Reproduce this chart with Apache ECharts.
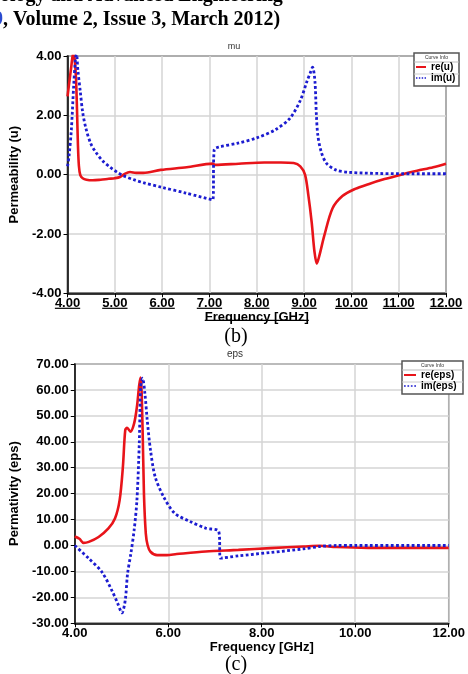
<!DOCTYPE html>
<html>
<head>
<meta charset="utf-8">
<script src="https://cdn.jsdelivr.net/npm/echarts@6/dist/echarts.min.js"></script>
<style>
  html, body { margin: 0; padding: 0; background: #fff; }
  #chart { width: 468px; height: 674px; }
</style>
</head>
<body>
<div id="chart"></div>
<script>
  // (b) mu
  const muReF = [4.00, 4.04, 4.08, 4.12, 4.15, 4.18, 4.20, 4.22, 4.24, 4.27, 4.32, 4.40, 4.53, 4.70, 4.87, 5.00, 5.11, 5.20, 5.32, 5.45, 5.60, 5.97, 6.52, 7.07, 7.12, 7.62, 8.16, 8.51, 8.78, 8.92, 9.02, 9.09, 9.16, 9.22, 9.27, 9.32, 9.43, 9.60, 9.81, 10.08, 10.36, 10.70, 11.05, 11.39, 11.73, 12.00];
  const muReV = [2.64, 3.15, 3.65, 4.10, 3.90, 3.20, 2.20, 1.00, 0.30, -0.02, -0.12, -0.17, -0.19, -0.17, -0.14, -0.12, -0.08, 0.02, 0.09, 0.06, 0.06, 0.16, 0.25, 0.37, 0.33, 0.37, 0.41, 0.41, 0.39, 0.28, 0.00, -0.69, -1.59, -2.60, -3.00, -2.75, -2.04, -1.14, -0.72, -0.48, -0.32, -0.15, 0.00, 0.13, 0.25, 0.37];
  const muImF = [4.00, 4.03, 4.08, 4.13, 4.17, 4.19, 4.22, 4.27, 4.32, 4.39, 4.49, 4.60, 4.75, 4.90, 5.05, 5.20, 5.40, 5.60, 6.00, 6.50, 7.07, 7.10, 7.20, 7.60, 8.00, 8.40, 8.70, 8.92, 9.06, 9.13, 9.18, 9.23, 9.26, 9.29, 9.36, 9.47, 9.67, 9.95, 10.60, 11.30, 12.00];
  const muImV = [0.28, 0.60, 1.50, 3.00, 3.95, 4.05, 3.50, 2.80, 2.10, 1.55, 1.05, 0.75, 0.45, 0.25, 0.08, -0.05, -0.17, -0.27, -0.43, -0.62, -0.85, 0.84, 0.93, 1.06, 1.24, 1.52, 1.90, 2.50, 3.14, 3.43, 3.62, 3.14, 2.02, 1.34, 0.78, 0.39, 0.16, 0.08, 0.04, 0.03, 0.03];

  // (c) eps
  const epsReF = [4.00, 4.10, 4.19, 4.30, 4.51, 4.72, 4.86, 4.96, 5.03, 5.08, 5.12, 5.19, 5.27, 5.33, 5.38, 5.41, 5.45, 5.48, 5.52, 5.56, 5.62, 5.76, 5.97, 6.18, 6.80, 7.50, 8.19, 8.89, 9.24, 9.59, 10.28, 12.00];
  const epsReV = [3.5, 2.6, 1.0, 1.4, 3.3, 6.6, 10.4, 17.5, 30.4, 44.5, 45.4, 43.9, 47.1, 53.5, 62.0, 64.8, 45.8, 20.0, 4.6, 0.0, -2.4, -3.7, -3.7, -3.3, -2.3, -1.7, -1.0, -0.4, -0.1, -0.6, -0.9, -0.9];
  const epsImF = [4.00, 4.30, 4.58, 4.79, 4.92, 4.99, 5.01, 5.08, 5.13, 5.20, 5.27, 5.33, 5.38, 5.41, 5.45, 5.50, 5.55, 5.62, 5.72, 5.90, 6.14, 6.46, 6.80, 7.08, 7.12, 7.50, 8.19, 8.89, 9.24, 9.60, 10.00, 12.00];
  const epsImV = [0.0, -5.0, -10.2, -17.2, -22.4, -25.6, -26.0, -21.1, -10.8, -3.1, 5.9, 17.5, 39.4, 61.3, 64.5, 58.7, 48.4, 36.8, 26.5, 18.8, 12.4, 9.3, 6.7, 5.4, -4.9, -4.0, -2.7, -1.3, -0.4, 0.0, 0.0, 0.0];

  const muTicksX = [4, 5, 6, 7, 8, 9, 10, 11, 12];

  const RED = '#e8141a';
  const BLUE = '#1c1cd0';
  const FONT = '"Liberation Sans", Arial, sans-serif';
  const SERIF = '"Liberation Serif", "Times New Roman", serif';
  // legend glyphs: a solid dash and a dotted dash
  const SOLID_ICON = 'rect';
  const DOT_ICON = 'path://M0,0h2v2h-2z M4,0h2v2h-2z M8,0h2v2h-2z M12,0h2v2h-2z';

  const zip = (xs, ys) => xs.map((x, i) => [x, ys[i]]);

  const chart = echarts.init(document.getElementById('chart'), null, { renderer: 'canvas' });

  const axisLabel = { color: '#000', fontFamily: FONT, fontWeight: 'bold', fontSize: 13, formatter: v => v.toFixed(2) };
  const splitLine = { show: true, lineStyle: { color: '#d4d4d4', width: 1.5 } };
  const axisLine = { show: true, onZero: false, lineStyle: { color: '#000', width: 1.5 } };
  const axisTick = { show: true, length: 4, lineStyle: { color: '#000' } };
  const nameStyle = { color: '#000', fontFamily: FONT, fontWeight: 'bold', fontSize: 13 };

  const legendBox = (id, x, y, w, h) => [
    { type: 'rect', id: id + 'box', shape: { x, y, width: w, height: h }, style: { fill: '#fff', stroke: '#555', lineWidth: 1.5 }, z: 10 },
    { type: 'line', id: id + 'l1', shape: { x1: x, y1: y + 9, x2: x + w, y2: y + 9 }, style: { stroke: '#bbb', lineWidth: 1 }, z: 11 },
    { type: 'line', id: id + 'l2', shape: { x1: x, y1: y + 21, x2: x + w, y2: y + 21 }, style: { stroke: '#ccc', lineWidth: 1 }, z: 11 },
    { type: 'text', id: id + 't', style: { text: 'Curve Info', x: x + w / 2, y: y + 5, align: 'center', verticalAlign: 'middle', font: '5px ' + FONT, fill: '#333' }, z: 11 }
  ];

  const legendText = w => ({ fontFamily: FONT, fontWeight: 'bold', fontSize: 10, color: '#000', width: w, align: 'right' });

  const option = {
    animation: false,
    backgroundColor: '#fff',
    title: [
      { text: 'mu', left: 234, top: 42, padding: 0, textAlign: 'center', textStyle: { fontFamily: FONT, fontSize: 9, fontWeight: 'normal', color: '#333' } },
      { text: 'eps', left: 235, top: 349, padding: 0, textAlign: 'center', textStyle: { fontFamily: FONT, fontSize: 10, fontWeight: 'normal', color: '#333' } }
    ],
    grid: [
      { left: 57.7, right: 22, top: 56, height: 237.3, show: true, borderColor: '#000', borderWidth: 1.5 },
      { left: 65.7, right: 19, top: 364, height: 259.3, show: true, borderColor: '#444', borderWidth: 1.5 }
    ],
    xAxis: [
      {
        type: 'value', gridIndex: 0, min: 4, max: 12, interval: 1,
        name: 'Frequency [GHz]', nameLocation: 'middle', nameGap: 15, nameTextStyle: nameStyle,
        axisLabel: Object.assign({}, axisLabel, { margin: 4 }), splitLine, axisLine, axisTick
      },
      {
        type: 'value', gridIndex: 1, min: 4, max: 12, interval: 2,
        name: 'Frequency [GHz]', nameLocation: 'middle', nameGap: 17, nameTextStyle: nameStyle,
        axisLabel: Object.assign({}, axisLabel, { margin: 4 }), splitLine, axisLine, axisTick
      }
    ],
    yAxis: [
      {
        type: 'value', gridIndex: 0, min: -4, max: 4, interval: 2,
        name: 'Permeability (u)', nameLocation: 'middle', nameGap: 31, nameTextStyle: nameStyle,
        axisLabel: Object.assign({}, axisLabel, { margin: 6 }), splitLine, axisLine, axisTick
      },
      {
        type: 'value', gridIndex: 1, min: -30, max: 70, interval: 10,
        name: 'Permativity (eps)', nameLocation: 'middle', nameGap: 46, nameTextStyle: nameStyle,
        axisLabel: Object.assign({}, axisLabel, { margin: 6 }), splitLine, axisLine, axisTick
      }
    ],
    legend: [
      {
        data: [{ name: 're(u)', icon: SOLID_ICON }, { name: 'im(u)', icon: DOT_ICON }],
        orient: 'vertical', left: 416, top: 62, padding: 0,
        itemWidth: 10, itemHeight: 2, itemGap: 1,
        textStyle: legendText(28), z: 12
      },
      {
        data: [{ name: 're(eps)', icon: SOLID_ICON }, { name: 'im(eps)', icon: DOT_ICON }],
        orient: 'vertical', left: 404, top: 370, padding: 0,
        itemWidth: 12, itemHeight: 2, itemGap: 1,
        textStyle: legendText(42), z: 12
      }
    ],
    graphic: [
      {
        type: 'text', id: 'hdr1', left: 0, top: -14,
        style: { text: 'ology and Advanced Engineering', font: 'bold 20px ' + SERIF, fill: '#000' }
      },
      {
        type: 'text', id: 'hdr2', left: -7, top: 10,
        style: {
          text: '{b|9}{k|, Volume 2, Issue 3, March 2012)}',
          rich: {
            b: { font: 'bold 20px ' + SERIF, fill: '#2a4bd0' },
            k: { font: 'bold 20px ' + SERIF, fill: '#000' }
          }
        }
      },
      { type: 'text', id: 'capb', style: { text: '(b)', x: 236, y: 337, align: 'center', verticalAlign: 'middle', font: '20px ' + SERIF, fill: '#000' } },
      { type: 'text', id: 'capc', style: { text: '(c)', x: 236, y: 665, align: 'center', verticalAlign: 'middle', font: '20px ' + SERIF, fill: '#000' } }
    ].concat(legendBox('lg0', 414, 53, 45, 33), legendBox('lg1', 402, 361, 61, 33)),
    series: [
      {
        name: 're(u)', type: 'line', xAxisIndex: 0, yAxisIndex: 0, data: zip(muReF, muReV),
        showSymbol: false, symbol: 'none', smooth: 0.3, lineStyle: { color: RED, width: 2.6 }, itemStyle: { color: RED }
      },
      {
        name: 'im(u)', type: 'line', xAxisIndex: 0, yAxisIndex: 0, data: zip(muImF, muImV),
        showSymbol: false, symbol: 'none', smooth: 0.3, lineStyle: { color: BLUE, width: 2.8, type: [2.8, 2.4] }, itemStyle: { color: BLUE }
      },
      {
        name: 're(eps)', type: 'line', xAxisIndex: 1, yAxisIndex: 1, data: zip(epsReF, epsReV),
        showSymbol: false, symbol: 'none', smooth: 0.3, lineStyle: { color: RED, width: 2.6 }, itemStyle: { color: RED }
      },
      {
        name: 'im(eps)', type: 'line', xAxisIndex: 1, yAxisIndex: 1, data: zip(epsImF, epsImV),
        showSymbol: false, symbol: 'none', smooth: 0.3, lineStyle: { color: BLUE, width: 2.8, type: [2.8, 2.4] }, itemStyle: { color: BLUE }
      }
    ]
  };

  chart.setOption(option);

  // underline the (b) x-axis labels and name, like the source figure
  const ctx = document.createElement('canvas').getContext('2d');
  ctx.font = 'bold 13px ' + FONT;
  const underlines = muTicksX.map((v, i) => {
    const [px, py] = chart.convertToPixel({ gridIndex: 0 }, [v, -4]);
    const w = ctx.measureText(v.toFixed(2)).width;
    return { type: 'line', id: 'ul' + i, shape: { x1: px - w / 2, y1: py + 15, x2: px + w / 2, y2: py + 15 }, style: { stroke: '#000', lineWidth: 1.2 } };
  });
  const nameW = ctx.measureText('Frequency [GHz]').width;
  const [cx, cy] = chart.convertToPixel({ gridIndex: 0 }, [8, -4]);
  underlines.push({ type: 'line', id: 'ulname', shape: { x1: cx - nameW / 2, y1: cy + 27, x2: cx + nameW / 2, y2: cy + 27 }, style: { stroke: '#000', lineWidth: 1.2 } });
  chart.setOption({ graphic: underlines });
</script>
</body>
</html>
